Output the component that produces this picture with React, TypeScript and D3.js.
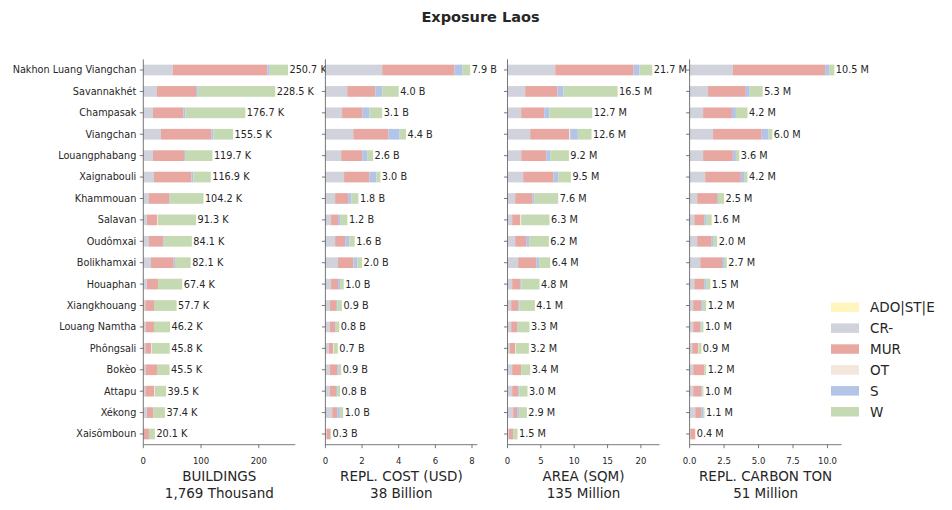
import React from 'react';
import * as d3 from 'd3';

// provinces, top to bottom
const provinces = [
  'Nakhon Luang Viangchan', 'Savannakhét', 'Champasak', 'Viangchan', 'Louangphabang',
  'Xaignabouli', 'Khammouan', 'Salavan', 'Oudômxai', 'Bolikhamxai', 'Houaphan',
  'Xiangkhouang', 'Louang Namtha', 'Phôngsali', 'Bokèo', 'Attapu', 'Xékong', 'Xaisômboun',
];

// buildings (thousand)
const bldCR = [50.9, 23.7, 16.8, 30.6, 16.8, 18.5, 9.8, 6.4, 9.8, 13.3, 6.4, 3.5, 4.0, 3.5, 4.0, 3.5, 6.4, 0.6];
const bldMUR = [164.1, 67.6, 52.6, 87.3, 53.7, 64.7, 35.3, 17.3, 24.9, 39.3, 19.0, 15.0, 14.5, 9.8, 19.7, 15.6, 10.4, 9.2];
const bldOT = [0, 0, 0, 0, 0, 0, 0, 1.5, 0, 0, 0, 0, 0, 1.7, 0, 1.1, 0, 0];
const bldS = [4.0, 2.9, 3.4, 3.5, 1.8, 3.5, 1.1, 0, 1.1, 2.3, 0, 0, 0, 0, 0, 0, 1.1, 0];
const bldW = [31.7, 134.3, 103.9, 34.1, 47.4, 30.2, 58.0, 66.1, 48.3, 27.2, 42.0, 39.2, 27.7, 30.8, 21.8, 19.3, 19.5, 10.3];
const bldTotal = [250.7, 228.5, 176.7, 155.5, 119.7, 116.9, 104.2, 91.3, 84.1, 82.1, 67.4, 57.7, 46.2, 45.8, 45.5, 39.5, 37.4, 20.1];

// replacement cost (billion USD)
const costCR = [3.10, 1.19, 0.91, 1.52, 0.86, 1.02, 0.53, 0.31, 0.53, 0.69, 0.31, 0.24, 0.24, 0.18, 0.24, 0.24, 0.37, 0.07];
const costMUR = [3.95, 1.53, 1.10, 1.91, 1.15, 1.39, 0.71, 0.38, 0.55, 0.84, 0.38, 0.34, 0.29, 0.24, 0.40, 0.34, 0.27, 0.19];
const costOT = [0, 0, 0, 0, 0, 0, 0, 0, 0, 0, 0, 0, 0, 0.04, 0, 0, 0, 0];
const costS = [0.44, 0.38, 0.40, 0.62, 0.27, 0.37, 0.17, 0.11, 0.22, 0.21, 0.11, 0.06, 0.04, 0, 0.09, 0.06, 0.15, 0];
const costW = [0.41, 0.90, 0.69, 0.35, 0.32, 0.22, 0.39, 0.40, 0.30, 0.26, 0.20, 0.26, 0.19, 0.22, 0.13, 0.16, 0.18, 0.05];
const costTotal = [7.9, 4.0, 3.1, 4.4, 2.6, 3.0, 1.8, 1.2, 1.6, 2.0, 1.0, 0.9, 0.8, 0.7, 0.9, 0.8, 1.0, 0.3];

// area (million sqm)
const areaCR = [7.15, 2.65, 2.05, 3.4, 2.05, 2.35, 1.15, 0.7, 1.15, 1.6, 0.7, 0.55, 0.55, 0.35, 0.7, 0.7, 0.85, 0.2];
const areaMUR = [11.75, 4.85, 3.45, 5.85, 3.75, 4.55, 2.55, 1.2, 1.65, 2.7, 1.2, 1.05, 0.9, 0.8, 1.35, 0.9, 0.6, 0.65];
const areaOT = [0, 0, 0, 0.15, 0, 0, 0, 0.15, 0, 0, 0, 0, 0, 0.1, 0, 0, 0, 0];
const areaS = [0.9, 0.9, 0.8, 1.15, 0.6, 0.7, 0.3, 0, 0.45, 0.45, 0.15, 0.15, 0.1, 0, 0, 0.15, 0.3, 0];
const areaW = [1.9, 8.1, 6.4, 2.05, 2.8, 1.9, 3.6, 4.25, 2.95, 1.65, 2.75, 2.35, 1.75, 1.95, 1.35, 1.25, 1.15, 0.65];
const areaTotal = [21.7, 16.5, 12.7, 12.6, 9.2, 9.5, 7.6, 6.3, 6.2, 6.4, 4.8, 4.1, 3.3, 3.2, 3.4, 3.0, 2.9, 1.5];

// replacement carbon (million ton)
const carbCR = [3.14, 1.34, 0.98, 1.70, 0.98, 1.13, 0.55, 0.34, 0.55, 0.77, 0.34, 0.26, 0.26, 0.19, 0.26, 0.26, 0.41, 0.07];
const carbMUR = [6.69, 2.74, 2.09, 3.53, 2.16, 2.59, 1.44, 0.72, 1.01, 1.58, 0.72, 0.58, 0.51, 0.43, 0.80, 0.58, 0.43, 0.34];
const carbOT = [0, 0, 0, 0, 0, 0, 0, 0, 0, 0, 0, 0, 0, 0.03, 0, 0, 0, 0];
const carbS = [0.29, 0.28, 0.29, 0.50, 0.22, 0.28, 0.07, 0.14, 0.14, 0.14, 0.14, 0.12, 0.08, 0, 0, 0.07, 0.14, 0];
const carbW = [0.38, 0.94, 0.84, 0.27, 0.24, 0.20, 0.44, 0.40, 0.30, 0.21, 0.30, 0.24, 0.15, 0.20, 0.14, 0.09, 0.10, 0];
const carbTotal = [10.5, 5.3, 4.2, 6.0, 3.6, 4.2, 2.5, 1.6, 2.0, 2.7, 1.5, 1.2, 1.0, 0.9, 1.2, 1.0, 1.1, 0.4];

const legendLabels = ['ADO|ST|E', 'CR-', 'MUR', 'OT', 'S', 'W'];
const legendColors = ['#fff6bf', '#d0d3dc', '#e8a8a1', '#f3e7dc', '#b2c5e7', '#c5d9b2'];

const panels = [
  { series: [bldCR, bldMUR, bldOT, bldS, bldW], totals: bldTotal, unit: 'K', ticks: [0, 100, 200], tickFmt: (d: number) => String(d), title: 'BUILDINGS', sub: '1,769 Thousand' },
  { series: [costCR, costMUR, costOT, costS, costW], totals: costTotal, unit: 'B', ticks: [0, 2, 4, 6, 8], tickFmt: (d: number) => String(d), title: 'REPL. COST (USD)', sub: '38 Billion' },
  { series: [areaCR, areaMUR, areaOT, areaS, areaW], totals: areaTotal, unit: 'M', ticks: [0, 5, 10, 15, 20], tickFmt: (d: number) => String(d), title: 'AREA (SQM)', sub: '135 Million' },
  { series: [carbCR, carbMUR, carbOT, carbS, carbW], totals: carbTotal, unit: 'M', ticks: [0, 2.5, 5, 7.5, 10], tickFmt: (d: number) => d.toFixed(1), title: 'REPL. CARBON TON', sub: '51 Million' },
];
// colours for the stacked series (CR-, MUR, OT, S, W)
const stackColors = legendColors.slice(1);

const FONT = '"DejaVu Sans", sans-serif';
const TEXT = '#262626';
const AXIS = '#555';

const App = () => {
  const width = 952;
  const height = 510;
  const top = 59.3;
  const bottom = 444.7;
  const panelW = 152;

  const y = d3.scaleBand<string>()
    .domain(provinces)
    .range([top, bottom])
    .paddingInner(0.5)
    .paddingOuter(0.25);

  return (
    <svg width={width} height={height} style={{ position: 'absolute', left: 0, top: 0, fontFamily: FONT }}>
      <rect width={width} height={height} fill="white" />
      <text x={480.5} y={22} textAnchor="middle" fontWeight="bold" fontSize={14.5} fill={TEXT}>Exposure Laos</text>

      {panels.map((p, pi) => {
        const left = 143.3 + pi * 182.1;
        const sums = provinces.map((_, i) => d3.sum(p.series, s => s[i]));
        const x = d3.scaleLinear()
          .domain([0, (d3.max(sums) as number) * 1.05])
          .range([left, left + panelW]);
        return (
          <g key={pi}>
            {provinces.map((name, i) => {
              let acc = 0;
              const yy = y(name) as number;
              return (
                <g key={name}>
                  {p.series.map((s, si) => {
                    const x0 = acc;
                    acc += s[i];
                    if (s[i] <= 0) return null;
                    return (
                      <rect key={si} x={x(x0)} y={yy} width={x(acc) - x(x0)} height={y.bandwidth()} fill={stackColors[si]} />
                    );
                  })}
                  <text x={x(acc) + 1.5} y={yy + y.bandwidth() / 2} dy="0.35em" fontSize={9.7} fill={TEXT}>
                    {p.totals[i].toFixed(1)} {p.unit}
                  </text>
                  <line x1={left - 3.5} x2={left} y1={yy + y.bandwidth() / 2} y2={yy + y.bandwidth() / 2} stroke={AXIS} strokeWidth={0.8} />
                  {pi === 0 && (
                    <text x={left - 7} y={yy + y.bandwidth() / 2} dy="0.35em" textAnchor="end" fontSize={9.7} fill={TEXT}>{name}</text>
                  )}
                </g>
              );
            })}
            <line x1={left} x2={left} y1={top} y2={bottom} stroke={AXIS} strokeWidth={0.8} />
            <line x1={left} x2={left + panelW} y1={bottom} y2={bottom} stroke={AXIS} strokeWidth={0.8} />
            {p.ticks.map(t => (
              <g key={t}>
                <line x1={x(t)} x2={x(t)} y1={bottom} y2={bottom + 3.5} stroke={AXIS} strokeWidth={0.8} />
                <text x={x(t)} y={bottom + 19} textAnchor="middle" fontSize={8.5} fill={TEXT}>{p.tickFmt(t)}</text>
              </g>
            ))}
            <text x={left + panelW / 2} y={481} textAnchor="middle" fontSize={13.5} fill={TEXT}>{p.title}</text>
            <text x={left + panelW / 2} y={497.5} textAnchor="middle" fontSize={13.5} fill={TEXT}>{p.sub}</text>
          </g>
        );
      })}

      {legendLabels.map((l, i) => (
        <g key={l}>
          <rect x={831} y={302.5 + i * 20.9} width={28} height={9.5} fill={legendColors[i]} />
          <text x={870} y={307.3 + i * 20.9} dy="0.35em" fontSize={13.5} fill={TEXT}>{l}</text>
        </g>
      ))}
    </svg>
  );
};

export default App;
